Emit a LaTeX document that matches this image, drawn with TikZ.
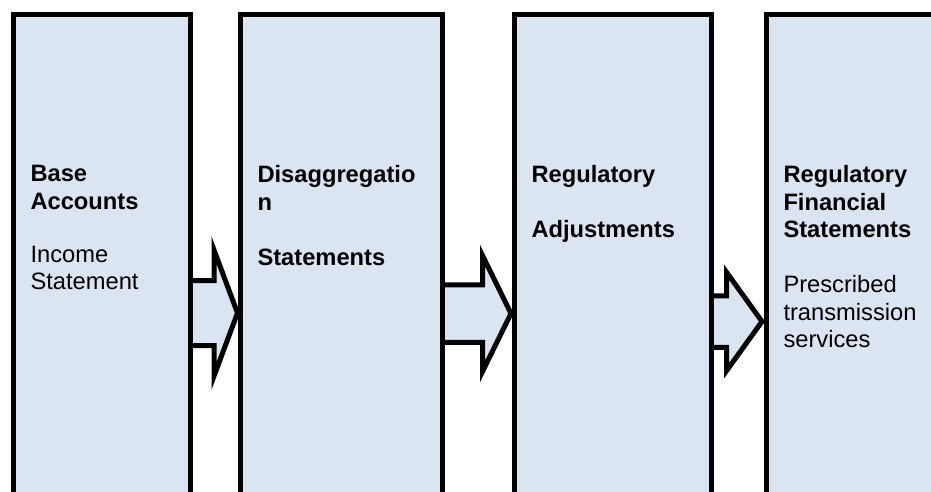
\documentclass[tikz,border=0pt]{standalone}
\usepackage{fontspec}
\setmainfont{Liberation Sans}
\usepackage{tikz}
\usetikzlibrary {calc,
                 positioning,
                 backgrounds}
\definecolor{stagefill}{RGB}{219,229,241}
\tikzset{
        stage/.style={draw, fill=stagefill, line width=5pt, minimum height=479.5pt,
                      inner sep=0pt},
        stagetext/.style={align=left, inner sep=0pt, outer sep=0pt,
                          font=\fontsize{23.7}{27.5}\selectfont},
        flowarrow/.style={draw, fill=stagefill, line width=5pt, miter limit=10},
 }
\begin{document}
\begin{tikzpicture}
    \useasboundingbox (0,0) rectangle (931pt,491pt);
    \node[stage, minimum width=177pt, anchor=north west] (base) at (11pt,479pt) {};
    \node[stage, minimum width=202pt, right=45pt of base] (disagg) {};
    \node[stage, minimum width=197.3pt, right=67pt of disagg] (regadj) {};
    \node[stage, minimum width=200pt, right=49.7pt of regadj] (regfin) {};

    \node[stagetext, below right=153.5pt and 19.5pt of base.north west] (basetxt)
        {\textbf{Base}\\\textbf{Accounts}\\[25.5pt]Income\\Statement};
    \node[stagetext, below right=153.5pt and 19.5pt of disagg.north west] (disaggtxt)
        {\textbf{Disaggregatio}\\\textbf{n}\\[27.5pt]\textbf{Statements}};
    \node[stagetext, below right=153.5pt and 19.5pt of regadj.north west] (regadjtxt)
        {\textbf{Regulatory}\\[27.5pt]\textbf{Adjustments}};
    \node[stagetext, below right=153.5pt and 19.5pt of regfin.north west] (regfintxt)
        {\textbf{Regulatory}\\\textbf{Financial}\\\textbf{Statements}\\[27.5pt]Prescribed\\transmission\\services};

    \begin{scope}[on background layer]
    \draw[flowarrow] let \p1=(base.east), \p2=(disagg.west) in
        (\x1-8pt,210.5pt) -- (214pt,210.5pt) -- (214pt,241pt) -- (\x2-0.5pt,178pt)
        -- (214pt,115pt) -- (214pt,145.5pt) -- (\x1-8pt,145.5pt) -- cycle;
    \draw[flowarrow] let \p1=(disagg.east), \p2=(regadj.west) in
        (\x1-8pt,206.25pt) -- (482.5pt,206.25pt) -- (482.5pt,235.5pt) -- (\x2-1pt,177.5pt)
        -- (482.5pt,119.5pt) -- (482.5pt,148.75pt) -- (\x1-8pt,148.75pt) -- cycle;
    \draw[flowarrow] let \p1=(regadj.east), \p2=(regfin.west) in
        (\x1-8pt,195.25pt) -- (726.7pt,195.25pt) -- (726.7pt,218.5pt) -- (\x2-2pt,169.5pt)
        -- (726.7pt,120.5pt) -- (726.7pt,143.75pt) -- (\x1-8pt,143.75pt) -- cycle;
    \end{scope}
\end{tikzpicture}
\end{document}
